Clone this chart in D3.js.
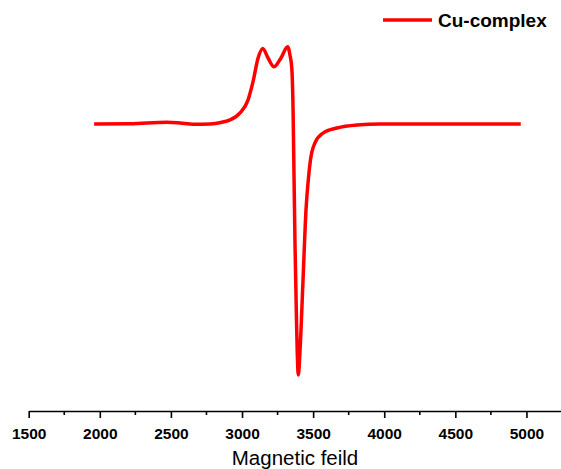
<!DOCTYPE html>
<html>
<head>
<meta charset="utf-8">
<script src="https://cdn.jsdelivr.net/npm/d3@7"></script>
<style>
  body { margin: 0; background: #fff; }
  svg { display: block; font-family: Arial, "Liberation Sans", sans-serif; }
</style>
</head>
<body>
<script>
// EPR spectrum (field in G, intensity in arbitrary units)
const field = [1960, 2212, 2473, 2564, 2655, 2775, 2880, 2916, 2986, 3042, 3077, 3113, 3146,
    3183, 3225, 3274, 3321, 3337, 3350, 3359, 3366, 3373, 3383, 3396, 3408, 3429, 3450, 3468,
    3482, 3513, 3570, 3668, 3809, 3971, 4463, 4960];
const intensity = [0, 0.001, 0.007, 0.004, -0.001, 0, 0.010, 0.016, 0.044, 0.095, 0.167, 0.262, 0.300,
    0.262, 0.227, 0.262, 0.307, 0.274, 0.222, 0.056, -0.222, -0.488, -0.778, -0.996, -0.897, -0.619, -0.34, -0.21,
    -0.14, -0.075, -0.036, -0.016, -0.004, 0, 0, 0];
const xTicks = [1500, 2000, 2500, 3000, 3500, 4000, 4500, 5000];
const seriesName = 'Cu-complex';

let width = 561,
    height = 469;

let svg = d3.select('body')
    .append('svg')
    .attr('width', width)
    .attr('height', height);

let x = d3.scaleLinear()
    .domain([1500, 5250])
    .range([28.7, 562]);

let y = d3.scaleLinear()
    .domain([-1, 0])
    .range([376, 124]);

let axisY = 411;

// major ticks with labels
let xAxis = d3.axisBottom(x)
    .tickValues(xTicks)
    .tickFormat(d3.format('d'))
    .tickSize(7)
    .tickPadding(10)
    .tickSizeOuter(0);

let gx = svg.append('g')
    .attr('transform', 'translate(0,' + axisY + ')')
    .call(xAxis);

gx.select('.domain').attr('stroke', '#000').attr('stroke-width', 1.6);
gx.selectAll('.tick line').attr('stroke', '#000').attr('stroke-width', 1.6);
gx.selectAll('.tick text')
    .attr('fill', '#000')
    .style('font-size', '15.5px')
    .style('font-weight', 'bold');

// minor ticks
let minor = d3.range(1750, 5250, 500);
svg.append('g')
    .attr('transform', 'translate(0,' + axisY + ')')
    .selectAll('line')
    .data(minor)
    .join('line')
    .attr('x1', d => x(d))
    .attr('x2', d => x(d))
    .attr('y1', 0)
    .attr('y2', 4)
    .attr('stroke', '#000')
    .attr('stroke-width', 1.6);

// axis title
svg.append('text')
    .attr('x', 295)
    .attr('y', 465)
    .attr('text-anchor', 'middle')
    .style('font-size', '20.5px')
    .text('Magnetic feild');

// spectrum line
let pts = field.map((f, i) => [f, intensity[i]]);
let lineFunc = d3.line()
    .x(d => x(d[0]))
    .y(d => y(d[1]))
    .curve(d3.curveMonotoneX);

svg.append('path')
    .datum(pts)
    .attr('d', lineFunc)
    .attr('fill', 'none')
    .attr('stroke', '#ff0000')
    .attr('stroke-width', 3.5)
    .attr('stroke-linejoin', 'round');

// legend
let lg = svg.append('g');
lg.append('line')
    .attr('x1', 383)
    .attr('x2', 432)
    .attr('y1', 20)
    .attr('y2', 20)
    .attr('stroke', '#ff0000')
    .attr('stroke-width', 3.5);
lg.append('text')
    .attr('x', 438)
    .attr('y', 27)
    .style('font-size', '19px')
    .style('font-weight', 'bold')
    .text(seriesName);
</script>
</body>
</html>
